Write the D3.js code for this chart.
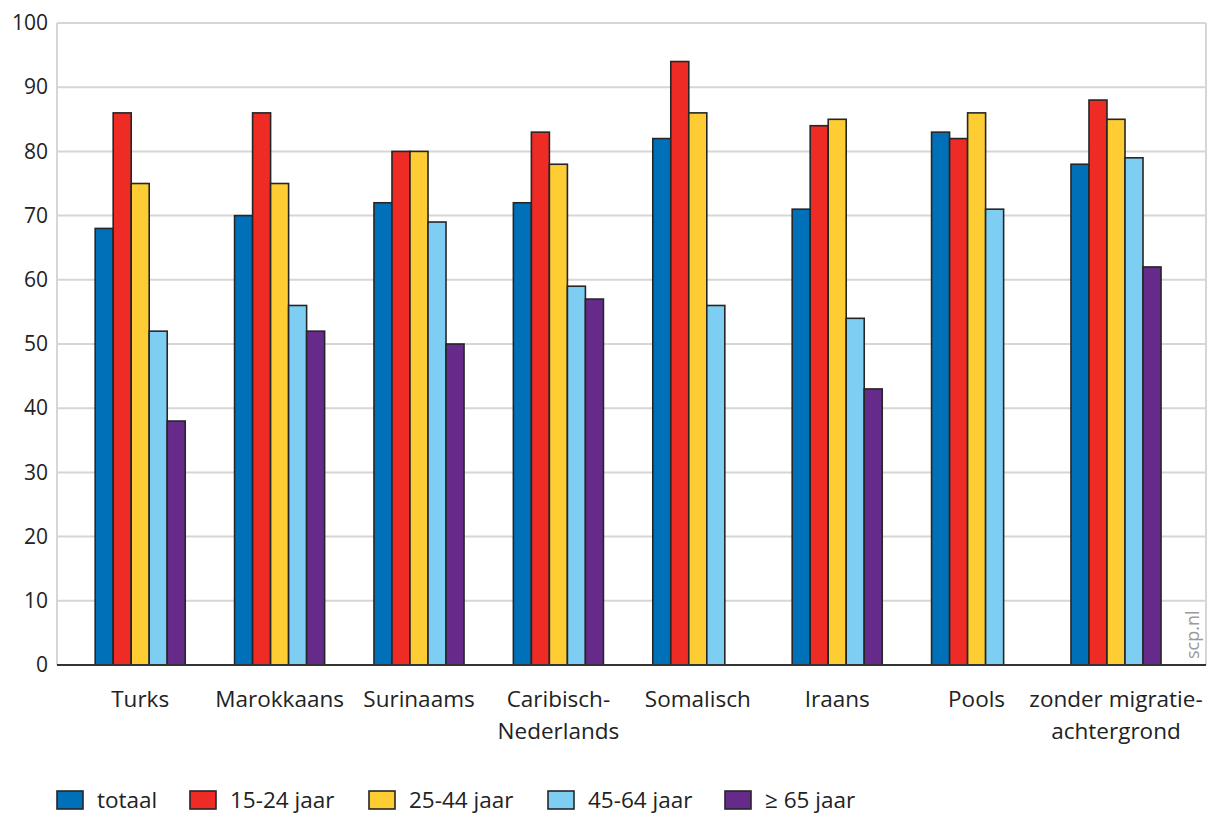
<!DOCTYPE html>
<html>
<head>
<meta charset="utf-8">
<script src="https://cdn.jsdelivr.net/npm/d3@7"></script>
<style>
  html, body { margin: 0; padding: 0; background: #fff; }
  svg { display: block; font-family: "Open Sans", "Noto Sans", sans-serif; }
</style>
</head>
<body>
<svg id="chart" width="1212" height="814"></svg>
<script>
// ---- data ----
const categories = ["Turks", "Marokkaans", "Surinaams", "Caribisch-\nNederlands", "Somalisch", "Iraans", "Pools", "zonder migratie-\nachtergrond"];
const seriesNames = ["totaal", "15-24 jaar", "25-44 jaar", "45-64 jaar", "\u2265 65 jaar"];
const totaal   = [68, 70, 72, 72, 82, 71, 83, 78];
const jaar1524 = [86, 86, 80, 83, 94, 84, 82, 88];
const jaar2544 = [75, 75, 80, 78, 86, 85, 86, 85];
const jaar4564 = [52, 56, 69, 59, 56, 54, 71, 79];
const jaar65   = [38, 52, 50, 57, null, 43, null, 62];
const yTicks = [0, 10, 20, 30, 40, 50, 60, 70, 80, 90, 100];
const colors = ["#0071b9", "#ee2b24", "#fecd34", "#7ecef3", "#662a8a"];
const watermark = "scp.nl";

const seriesValues = [totaal, jaar1524, jaar2544, jaar4564, jaar65];

// ---- layout ----
const svg = d3.select("#chart");
const plotLeft = 57, plotRight = 1206, plotTop = 23, plotBottom = 665;

const y = d3.scaleLinear().domain([0, 100]).range([plotBottom, plotTop]);
const x0 = d3.scaleBand().domain(categories).range([70.5, 1185.7]).paddingInner(0.354).paddingOuter(0.177);
const x1 = d3.scaleBand().domain(seriesNames).range([0, x0.bandwidth()]);

// gridlines
const grid = svg.append("g");
grid.selectAll("line.g").data(yTicks.filter(d => d > 0)).join("line")
  .attr("x1", plotLeft).attr("x2", plotRight)
  .attr("y1", d => y(d)).attr("y2", d => y(d))
  .attr("stroke", "#d6d6d6").attr("stroke-width", 2);
// left & right borders
grid.append("line").attr("x1", plotLeft).attr("x2", plotLeft).attr("y1", y(100)).attr("y2", y(0))
  .attr("stroke", "#d6d6d6").attr("stroke-width", 2);
grid.append("line").attr("x1", plotRight).attr("x2", plotRight).attr("y1", y(100)).attr("y2", y(0))
  .attr("stroke", "#d6d6d6").attr("stroke-width", 2);

// y axis labels
const yAxis = d3.axisLeft(y).tickValues(yTicks).tickSize(0).tickPadding(9);
const ya = svg.append("g").attr("transform", `translate(${plotLeft},0)`).call(yAxis);
ya.select(".domain").remove();
ya.selectAll("text").attr("font-size", 21).attr("fill", "#222").attr("font-family", "'Open Sans', sans-serif");

// bars
const groups = svg.append("g").selectAll("g").data(categories).join("g")
  .attr("transform", d => `translate(${x0(d)},0)`);
groups.selectAll("rect")
  .data((c, i) => seriesNames.map((s, j) => ({ s, j, v: seriesValues[j][i] })).filter(d => d.v != null))
  .join("rect")
  .attr("x", d => x1(d.s))
  .attr("width", x1.bandwidth())
  .attr("y", d => y(d.v))
  .attr("height", d => y(0) - y(d.v))
  .attr("fill", d => colors[d.j])
  .attr("stroke", "#262626")
  .attr("stroke-width", 1.6);

// baseline
svg.append("line").attr("x1", plotLeft).attr("x2", plotRight).attr("y1", y(0)).attr("y2", y(0))
  .attr("stroke", "#333").attr("stroke-width", 2);

// x labels
const xl = svg.append("g");
categories.forEach(c => {
  const t = xl.append("text")
    .attr("x", x0(c) + x0.bandwidth() / 2)
    .attr("y", 707)
    .attr("text-anchor", "middle")
    .attr("font-size", 22.5)
    .attr("fill", "#222");
  c.split("\n").forEach((line, k) => {
    t.append("tspan").attr("x", x0(c) + x0.bandwidth() / 2).attr("dy", k === 0 ? 0 : 32).text(line);
  });
});

// watermark
svg.append("text")
  .attr("transform", `translate(1199,659) rotate(-90)`)
  .attr("font-size", 18)
  .attr("fill", "#9a9a9a")
  .text(watermark);

// legend
const legendX = [57, 190, 369, 548, 725];
const lg = svg.append("g");
seriesNames.forEach((s, j) => {
  lg.append("rect")
    .attr("x", legendX[j]).attr("y", 791)
    .attr("width", 26).attr("height", 18)
    .attr("fill", colors[j]).attr("stroke", "#262626").attr("stroke-width", 1.6);
  lg.append("text")
    .attr("x", legendX[j] + 40).attr("y", 808)
    .attr("font-size", 22.5).attr("fill", "#222")
    .text(s);
});
</script>
</body>
</html>
